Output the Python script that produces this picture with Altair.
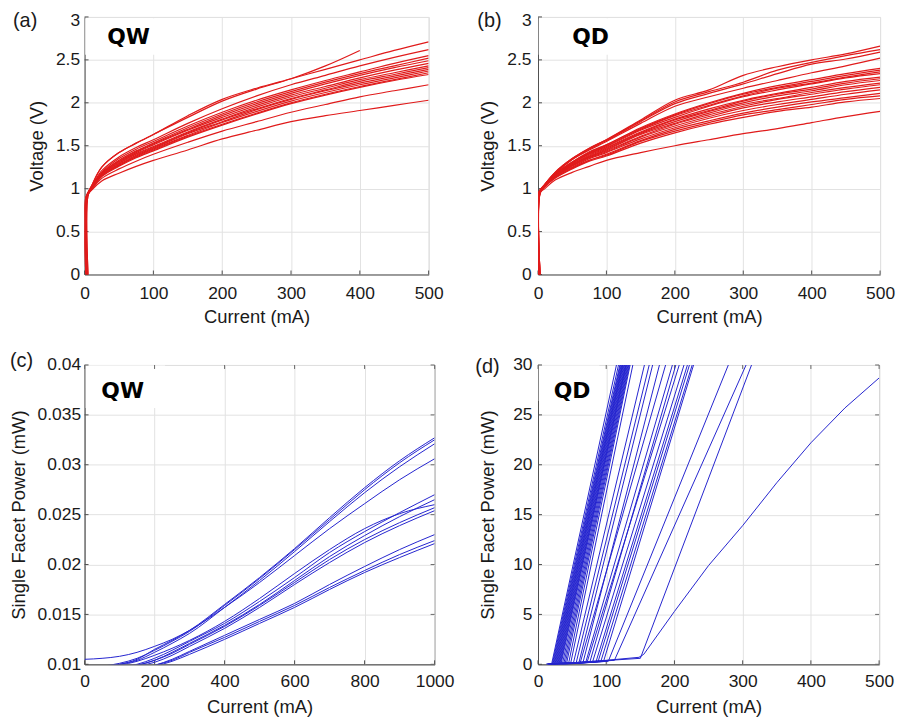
import altair as alt
import pandas as pd

# ---------------- (a) QW : voltage vs current ----------------
qw_iv_grid = [10, 25, 50, 75, 100, 150, 200, 250, 300, 350, 400, 450, 500]
qw_iv_on = [4, 4, 2, 4, 4, 5, 4, 2, 4, 4, 5, 4, 4, 2, 4]
qw_iv_knee = [0.92, 0.92, 0.90, 0.92, 0.93, 0.92, 0.91, 0.90, 0.92, 0.93, 0.92, 0.91, 0.92, 0.90, 0.91]
qw_iv_volts = [
    [1.03, 1.25, 1.42, 1.53, 1.63, 1.83, 2.02, 2.16, 2.28, 2.43, 2.61, None, None],
    [1.03, 1.25, 1.42, 1.53, 1.63, 1.85, 2.04, 2.17, 2.28, 2.39, 2.50, 2.61, 2.71],
    [1.02, 1.21, 1.37, 1.48, 1.57, 1.76, 1.93, 2.08, 2.21, 2.32, 2.43, 2.53, 2.62],
    [1.02, 1.19, 1.35, 1.46, 1.55, 1.73, 1.89, 2.03, 2.15, 2.26, 2.36, 2.46, 2.55],
    [1.01, 1.18, 1.33, 1.44, 1.53, 1.71, 1.87, 2.01, 2.13, 2.24, 2.34, 2.43, 2.52],
    [1.01, 1.18, 1.32, 1.43, 1.52, 1.69, 1.85, 1.99, 2.11, 2.22, 2.32, 2.41, 2.49],
    [1.01, 1.17, 1.31, 1.42, 1.51, 1.68, 1.83, 1.97, 2.09, 2.19, 2.29, 2.38, 2.46],
    [1.00, 1.17, 1.30, 1.41, 1.49, 1.66, 1.81, 1.95, 2.07, 2.17, 2.27, 2.35, 2.43],
    [1.00, 1.16, 1.29, 1.40, 1.48, 1.65, 1.80, 1.93, 2.05, 2.15, 2.25, 2.33, 2.41],
    [1.00, 1.16, 1.28, 1.39, 1.47, 1.64, 1.78, 1.92, 2.04, 2.14, 2.23, 2.31, 2.39],
    [1.00, 1.15, 1.27, 1.38, 1.46, 1.62, 1.77, 1.90, 2.02, 2.12, 2.21, 2.29, 2.37],
    [0.99, 1.15, 1.27, 1.37, 1.45, 1.61, 1.75, 1.88, 2.00, 2.10, 2.19, 2.27, 2.35],
    [0.99, 1.14, 1.26, 1.36, 1.44, 1.60, 1.74, 1.87, 1.99, 2.09, 2.18, 2.26, 2.33],
    [0.99, 1.12, 1.23, 1.32, 1.40, 1.54, 1.67, 1.78, 1.89, 1.98, 2.07, 2.14, 2.21],
    [0.98, 1.09, 1.18, 1.26, 1.33, 1.45, 1.58, 1.68, 1.78, 1.85, 1.91, 1.97, 2.03],
]

# ---------------- (b) QD : voltage vs current ----------------
qd_iv_grid = [10, 25, 50, 75, 100, 150, 200, 250, 300, 350, 400, 450, 500]
qd_iv_on = [2, 2, 3, 2, 1, 2, 3, 2, 2, 1, 3, 2, 2, 3, 2, 1, 2, 3, 2]
qd_iv_knee = [0.95, 0.96, 0.95, 0.96, 0.95, 0.94, 0.96, 0.95, 0.95, 0.96, 0.94, 0.95, 0.96, 0.95, 0.94, 0.95, 0.96, 0.95, 0.94]
qd_iv_volts = [
    [1.05, 1.19, 1.35, 1.47, 1.57, 1.80, 2.03, 2.15, 2.32, 2.42, 2.50, 2.57, 2.66],
    [1.05, 1.19, 1.35, 1.47, 1.57, 1.79, 2.01, 2.13, 2.24, 2.38, 2.47, 2.55, 2.62],
    [1.05, 1.18, 1.34, 1.46, 1.56, 1.78, 1.99, 2.11, 2.22, 2.34, 2.45, 2.51, 2.59],
    [1.05, 1.18, 1.34, 1.45, 1.55, 1.76, 1.96, 2.07, 2.17, 2.26, 2.35, 2.43, 2.52],
    [1.04, 1.17, 1.31, 1.43, 1.51, 1.71, 1.87, 2.00, 2.11, 2.20, 2.27, 2.34, 2.40],
    [1.04, 1.17, 1.31, 1.42, 1.51, 1.70, 1.86, 1.99, 2.10, 2.18, 2.25, 2.32, 2.38],
    [1.04, 1.16, 1.30, 1.41, 1.50, 1.69, 1.85, 1.97, 2.08, 2.17, 2.23, 2.30, 2.36],
    [1.04, 1.16, 1.30, 1.41, 1.49, 1.68, 1.83, 1.96, 2.07, 2.15, 2.22, 2.29, 2.34],
    [1.04, 1.16, 1.29, 1.40, 1.48, 1.66, 1.81, 1.93, 2.03, 2.11, 2.18, 2.25, 2.30],
    [1.04, 1.15, 1.28, 1.39, 1.47, 1.65, 1.80, 1.91, 2.02, 2.10, 2.16, 2.23, 2.28],
    [1.03, 1.15, 1.28, 1.38, 1.46, 1.64, 1.78, 1.90, 2.00, 2.08, 2.14, 2.21, 2.26],
    [1.03, 1.15, 1.27, 1.37, 1.45, 1.63, 1.76, 1.88, 1.98, 2.05, 2.12, 2.18, 2.23],
    [1.03, 1.14, 1.27, 1.37, 1.44, 1.61, 1.75, 1.86, 1.96, 2.04, 2.10, 2.16, 2.21],
    [1.03, 1.14, 1.26, 1.36, 1.43, 1.60, 1.73, 1.84, 1.94, 2.01, 2.07, 2.13, 2.18],
    [1.03, 1.14, 1.25, 1.35, 1.42, 1.58, 1.71, 1.82, 1.91, 1.98, 2.04, 2.10, 2.15],
    [1.03, 1.13, 1.24, 1.33, 1.40, 1.56, 1.69, 1.79, 1.88, 1.95, 2.01, 2.06, 2.11],
    [1.03, 1.13, 1.24, 1.33, 1.39, 1.55, 1.67, 1.77, 1.86, 1.92, 1.98, 2.04, 2.08],
    [1.02, 1.12, 1.23, 1.32, 1.38, 1.53, 1.65, 1.75, 1.83, 1.90, 1.95, 2.01, 2.05],
    [1.00, 1.10, 1.19, 1.26, 1.33, 1.42, 1.50, 1.57, 1.64, 1.70, 1.77, 1.84, 1.90],
]

# ---------------- (c) QW : single facet power vs current ----------------
qw_li_grid = [0, 50, 100, 150, 200, 250, 300, 400, 500, 600, 700, 800, 900, 1000]
qw_li_power = [
    [0.0096, 0.0098, 0.0100, 0.0105, 0.0115, 0.0124, 0.0134, 0.0160, 0.0187, 0.0216, 0.0247, 0.0277, 0.0304, 0.0327],
    [0.0096, 0.0098, 0.0101, 0.0106, 0.0114, 0.0123, 0.0133, 0.0159, 0.0186, 0.0215, 0.0245, 0.0275, 0.0302, 0.0325],
    [0.0095, 0.0097, 0.0100, 0.0104, 0.0112, 0.0121, 0.0131, 0.0157, 0.0184, 0.0213, 0.0243, 0.0272, 0.0298, 0.0321],
    [0.0105, 0.0106, 0.0108, 0.0112, 0.0118, 0.0125, 0.0134, 0.0157, 0.0182, 0.0209, 0.0236, 0.0261, 0.0285, 0.0306],
    [0.0093, 0.0095, 0.0097, 0.0100, 0.0106, 0.0114, 0.0123, 0.0141, 0.0163, 0.0187, 0.0212, 0.0233, 0.0252, 0.0270],
    [0.0092, 0.0094, 0.0096, 0.0099, 0.0104, 0.0112, 0.0121, 0.0139, 0.0160, 0.0184, 0.0208, 0.0229, 0.0248, 0.0265],
    [0.0094, 0.0096, 0.0099, 0.0103, 0.0109, 0.0116, 0.0124, 0.0143, 0.0166, 0.0191, 0.0215, 0.0236, 0.0251, 0.0260],
    [0.0092, 0.0094, 0.0096, 0.0099, 0.0104, 0.0111, 0.0120, 0.0138, 0.0159, 0.0182, 0.0205, 0.0225, 0.0242, 0.0257],
    [0.0091, 0.0093, 0.0095, 0.0098, 0.0102, 0.0109, 0.0118, 0.0136, 0.0157, 0.0180, 0.0202, 0.0222, 0.0239, 0.0254],
    [0.0088, 0.0090, 0.0092, 0.0095, 0.0099, 0.0105, 0.0113, 0.0129, 0.0145, 0.0161, 0.0180, 0.0198, 0.0215, 0.0230],
    [0.0088, 0.0090, 0.0092, 0.0095, 0.0099, 0.0104, 0.0112, 0.0127, 0.0143, 0.0159, 0.0177, 0.0194, 0.0210, 0.0224],
    [0.0087, 0.0089, 0.0091, 0.0094, 0.0098, 0.0103, 0.0110, 0.0125, 0.0141, 0.0157, 0.0175, 0.0192, 0.0207, 0.0221],
]

# ---------------- (d) QD : single facet power vs current ----------------
# straight L-I curves: emission start (0 mW), threshold current & power, current at 30 mW
qd_li_start = [12, 12, 13, 13, 14, 14, 15, 15, 16, 16, 17, 17, 18, 18, 19, 20, 21, 22, 23, 25,
               20, 22, 24, 25, 26, 28, 30, 30, 32, 34, 35, 36, 38, 40,
               18, 20, 15]
qd_li_th = [20, 21, 22, 23, 24, 25, 26, 27, 28, 29, 30, 31, 32, 33, 34, 36, 38, 40, 42, 45,
            48, 52, 56, 60, 66, 62, 70, 76, 72, 80, 85, 88, 92, 96,
            103, 112, 150]
qd_li_pth = [0.05, 0.05, 0.06, 0.06, 0.07, 0.07, 0.08, 0.08, 0.08, 0.09, 0.09, 0.10, 0.10, 0.10, 0.11, 0.12, 0.12, 0.13, 0.14, 0.15,
             0.15, 0.16, 0.17, 0.18, 0.20, 0.19, 0.21, 0.23, 0.22, 0.24, 0.25, 0.26, 0.27, 0.28,
             0.30, 0.40, 0.60]
qd_li_top = [115, 118, 120, 121, 122, 123, 124, 124, 125, 126, 127, 128, 129, 129, 130, 131, 132, 133, 134, 135,
             139, 156, 163, 168, 178, 187, 197, 202, 207, 214, 219, 222, 226, 228,
             279, 305, 313]
qd_li_top_power = 30
# the one device that stays below 30 mW up to 500 mA
qd_li_long_i = [15, 60, 100, 148, 155, 200, 250, 300, 350, 400, 450, 500]
qd_li_long_p = [0.0, 0.2, 0.4, 0.7, 1.0, 5.3, 9.9, 13.9, 18.2, 22.2, 25.7, 28.7]

# axis tick values
iv_x_ticks = [0, 100, 200, 300, 400, 500]
iv_y_ticks = [0, 0.5, 1, 1.5, 2, 2.5, 3]
qw_li_x_ticks = [0, 200, 400, 600, 800, 1000]
qw_li_y_ticks = [0.01, 0.015, 0.02, 0.025, 0.03, 0.035, 0.04]
qd_li_x_ticks = [0, 100, 200, 300, 400, 500]
qd_li_y_ticks = [0, 5, 10, 15, 20, 25, 30]


# ---------------- build tables ----------------
def iv_table(grid, on, knee, volts):
    rows = []
    for k, vals in enumerate(volts):
        pts = [(on[k], 0.0), (on[k], knee[k])] + [(i, v) for i, v in zip(grid, vals) if v is not None]
        for s, (i, v) in enumerate(pts):
            rows.append({"curve": k, "seq": s, "I": i, "P": v})
    return pd.DataFrame(rows)


def li_table(grid, powers):
    rows = []
    for k, vals in enumerate(powers):
        for s, (i, p) in enumerate(zip(grid, vals)):
            rows.append({"curve": k, "seq": s, "I": i, "P": p})
    return pd.DataFrame(rows)


def qd_li_table():
    rows = []
    for k in range(len(qd_li_th)):
        pts = [(qd_li_start[k], 0.0), (qd_li_th[k], qd_li_pth[k]), (qd_li_top[k], qd_li_top_power)]
        for s, (i, p) in enumerate(pts):
            rows.append({"curve": k, "seq": s, "I": i, "P": p})
    k = len(qd_li_th)
    for s, (i, p) in enumerate(zip(qd_li_long_i, qd_li_long_p)):
        rows.append({"curve": k, "seq": s, "I": i, "P": p})
    return pd.DataFrame(rows)


df_a = iv_table(qw_iv_grid, qw_iv_on, qw_iv_knee, qw_iv_volts)
df_b = iv_table(qd_iv_grid, qd_iv_on, qd_iv_knee, qd_iv_volts)
df_c = li_table(qw_li_grid, qw_li_power)
df_d = qd_li_table()

FONT = "Liberation Sans"
TXT = "#1a1a1a"
GRID = "#e2e2e2"
AXC = "#505050"
RED = "#e01b1b"
BLUE = "#2424cf"


def panel(df, xdom, ydom, xvals, yvals, ytitle, color, sw, interp,
          tag, tag_pos, box, label, lab_x, lab_y, w, h, frame,
          ylp, ytp, xlp, xtp, top_lift, mirror):
    xax = alt.Axis(values=xvals, format="d", title="Current (mA)", grid=True,
                   gridColor=GRID, gridWidth=1, domainColor=AXC, domainWidth=1,
                   ticks=False, labelFont=FONT, labelFontSize=17.5, labelColor=TXT,
                   labelPadding=xlp, labelOverlap=False, labelFlush=False,
                   titleFont=FONT, titleFontSize=18.5, titleFontWeight="normal",
                   titleColor=TXT, titlePadding=xtp)
    top_val = yvals[-1]
    if top_lift:
        lbase = alt.condition(f"datum.value == {top_val}", alt.value("top"), alt.value("middle"))
        loff = alt.condition(f"datum.value == {top_val}", alt.value(-top_lift), alt.value(0))
    else:
        lbase = "middle"
        loff = 0
    yax = alt.Axis(values=yvals, format="~g", title=ytitle, grid=True,
                   gridColor=GRID, gridWidth=1, domainColor=AXC, domainWidth=1,
                   ticks=False, labelFont=FONT, labelFontSize=17.5, labelColor=TXT,
                   labelPadding=ylp, labelOverlap=False, labelFlush=False,
                   labelBaseline=lbase, labelOffset=loff,
                   titleFont=FONT, titleFontSize=18.5, titleFontWeight="normal",
                   titleColor=TXT, titlePadding=ytp)
    x = alt.X("I:Q", scale=alt.Scale(domain=xdom, nice=False, zero=False), axis=xax)
    y = alt.Y("P:Q", scale=alt.Scale(domain=ydom, nice=False, zero=False), axis=yax)

    box_df = pd.DataFrame([{"I": box[0], "I2": box[1], "P": box[2], "P2": box[3]}])
    boxl = alt.Chart(box_df).mark_rect(color="white").encode(
        x=x, x2="I2:Q", y=y, y2="P2:Q")
    lines = alt.Chart(df).mark_line(color=color, strokeWidth=sw, clip=True,
                                    interpolate=interp).encode(
        x=x, y=y, detail="curve:N", order="seq:Q")

    # small inward tick marks (MATLAB style)
    xt = pd.DataFrame({"I": xvals})
    yt = pd.DataFrame({"P": yvals})
    tick_layers = [
        alt.Chart(xt).mark_rule(color=AXC, strokeWidth=1).encode(
            x=x, y=alt.value(h), y2=alt.value(h - 4)),
        alt.Chart(yt).mark_rule(color=AXC, strokeWidth=1).encode(
            y=y, x=alt.value(0), x2=alt.value(4)),
    ]
    if mirror:
        tick_layers += [
            alt.Chart(xt).mark_rule(color=frame, strokeWidth=1).encode(
                x=x, y=alt.value(0), y2=alt.value(4)),
            alt.Chart(yt).mark_rule(color=frame, strokeWidth=1).encode(
                y=y, x=alt.value(w), x2=alt.value(w - 4)),
        ]

    tag_df = pd.DataFrame([{"I": tag_pos[0], "P": tag_pos[1], "t": tag}])
    tagl = alt.Chart(tag_df).mark_text(font="DejaVu Sans", fontWeight="bold", fontSize=22,
                                       align="left", baseline="alphabetic", color="black").encode(
        x=x, y=y, text="t:N")
    lab_df = pd.DataFrame([{"t": label}])
    labl = alt.Chart(lab_df).mark_text(font=FONT, fontSize=20, align="left",
                                       baseline="alphabetic", color=TXT).encode(
        x=alt.value(lab_x), y=alt.value(lab_y), text="t:N")
    return alt.layer(boxl, *tick_layers, lines, tagl, labl).properties(
        width=w, height=h, view=alt.ViewBackground(stroke=frame, strokeWidth=1))


pa = panel(df_a, [0, 500], [0, 3], iv_x_ticks, iv_y_ticks, "Voltage (V)", RED, 1.2, "catmull-rom",
           "QW", (33, 2.68), (1, 125, 2.985, 2.56), "(a)", -72, 10, 346, 259, "#d8d8d8",
           5, 9, 10, 6, 5, False)
pb = panel(df_b, [0, 500], [0, 3], iv_x_ticks, iv_y_ticks, "Voltage (V)", RED, 1.2, "catmull-rom",
           "QD", (50, 2.69), (1, 140, 2.985, 2.56), "(b)", -61, 10, 344, 259, "#d8d8d8",
           7, 9, 10, 6, 5, False)
pc = panel(df_c, [0, 1000], [0.01, 0.04], qw_li_x_ticks, qw_li_y_ticks,
           "Single Facet Power (mW)", BLUE, 1.0, "monotone",
           "QW", (48, 0.0367), (3, 230, 0.03995, 0.0357), "(c)", -75, 2, 352, 301, "#6a6a6a",
           4, 9, 8, 8, 0, True)
pd_ = panel(df_d, [0, 500], [0, 30], qd_li_x_ticks, qd_li_y_ticks,
            "Single Facet Power (mW)", BLUE, 1.0, "linear",
            "QD", (23, 26.7), (1, 90, 29.95, 26.4), "(d)", -63, 8, 343, 301, "#6a6a6a",
            6, 15, 8, 8, 0, True)

row1 = alt.hconcat(pa, pb, spacing=32)
row2 = alt.hconcat(pc, pd_, spacing=20)
chart = alt.vconcat(row1, row2, spacing=23).properties(
    padding=0, background="white")

chart.save("out.html", embed_options={"renderer": "svg", "actions": False})
